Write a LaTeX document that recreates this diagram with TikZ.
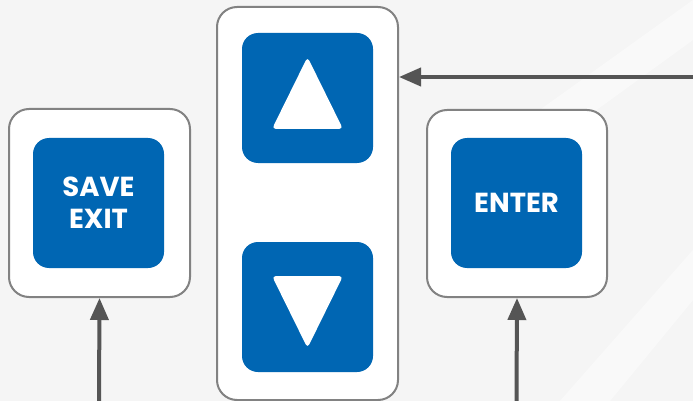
\documentclass[tikz,border=0pt]{standalone}
\usepackage{fontspec}
\setmainfont{Poppins}
\usetikzlibrary{arrows.meta}
\definecolor{keyblue}{HTML}{0066B3}
\definecolor{frame}{HTML}{828282}
\definecolor{arrowgray}{HTML}{555555}
\definecolor{bg}{HTML}{F5F5F5}
\tikzset{
  panel/.style={draw=frame, line width=2pt, fill=white, rounded corners=20pt, inner sep=0pt},
  key/.style={fill=keyblue, rounded corners=16pt, minimum width=131pt, minimum height=130pt,
    inner sep=0pt, text depth=0pt, text=white, align=center, font=\fontsize{27.5}{32}\selectfont\bfseries},
  pointer/.style={draw=arrowgray, line width=4pt, -{Triangle[length=22pt,width=18pt]}}
}
\begin{document}
\begin{tikzpicture}[x=1pt,y=-1pt]
  % background
  \fill[bg] (0,0) rectangle (693,401);
  \fill[white, opacity=0.45] (560,401) -- (693,250) -- (693,300) -- (610,401) -- cycle;
  \fill[white, opacity=0.45] (470,160) -- (693,0) -- (693,40) -- (500,180) -- cycle;
  \useasboundingbox (0,0) rectangle (693,401);
  % panels
  \node[panel, minimum width=181pt, minimum height=188pt] (left) at (99.5,203) {};
  \node[panel, minimum width=181pt, minimum height=393pt] (mid) at (307.5,203.5) {};
  \node[panel, minimum width=180pt, minimum height=187pt] (right) at (517,203.5) {};
  % keys
  \node[key] (save) at (98.5,203) {SAVE\\EXIT};
  \node[key] (up) at (307.5,98) {};
  \node[key] (down) at (307.5,307) {};
  \node[key] (enter) at (516.5,203) {ENTER};
  \fill[white, rounded corners=4pt] (307.5,57) -- (343,129) -- (272,129) -- cycle;
  \fill[white, rounded corners=4pt] (272,276) -- (343,276) -- (307.5,348) -- cycle;
  % arrows
  \draw[pointer] (99,401) -- (left.south);
  \draw[pointer] (516.5,401) -- (right.south);
  \coordinate (feed) at (693,77);
  \draw[pointer] (feed) -- (mid.east |- feed);
\end{tikzpicture}
\end{document}
